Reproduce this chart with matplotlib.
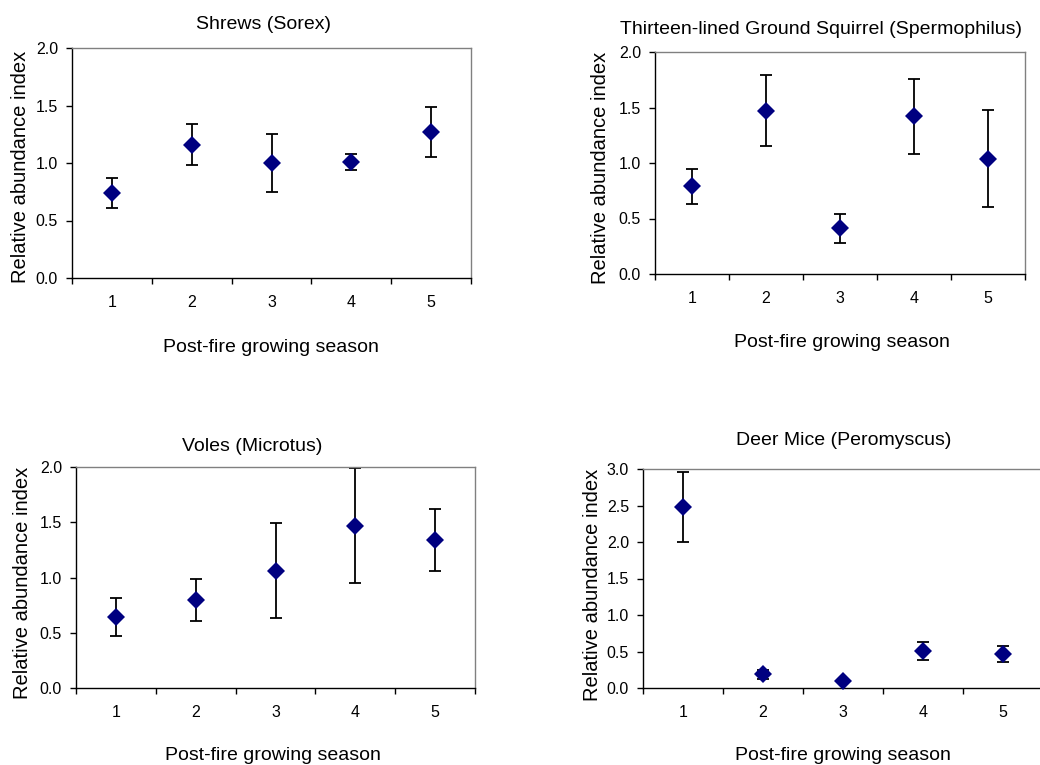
import numpy as np
import matplotlib
matplotlib.use('Agg')
import matplotlib.pyplot as plt

plt.rcParams['font.family'] = ['Liberation Sans', 'DejaVu Sans']

seasons = [1, 2, 3, 4, 5]

# Shrews (Sorex)
shrew_mean = [0.74, 1.16, 1.00, 1.01, 1.27]
shrew_err = [0.13, 0.18, 0.25, 0.07, 0.22]

# Thirteen-lined Ground Squirrel (Spermophilus)
squirrel_mean = [0.79, 1.47, 0.41, 1.42, 1.04]
squirrel_err = [0.155, 0.32, 0.13, 0.34, 0.44]

# Voles (Microtus)
vole_mean = [0.64, 0.80, 1.06, 1.47, 1.34]
vole_err = [0.17, 0.19, 0.43, 0.52, 0.28]

# Deer Mice (Peromyscus)
mice_mean = [2.48, 0.19, 0.10, 0.51, 0.47]
mice_err = [0.48, 0.06, 0.03, 0.12, 0.11]

W, H = 1040, 765
fig = plt.figure(figsize=(W / 100, H / 100), dpi=100)


def px_axes(l, t, r, b):
    return fig.add_axes([l / W, 1 - b / H, (r - l) / W, (b - t) / H])


def ftext(x, y, s, **kw):
    fig.text(x / W, 1 - y / H, s, **kw)


panels = [
    # axes box (l, t, r, b), title, title pos, ylabel pos, xlabel pos, data, ymax
    ((72, 48, 471, 278), 'Shrews (Sorex)', (263, 29), (21, 167), (271, 352),
     shrew_mean, shrew_err, 2.0),
    ((655, 52, 1025, 274), 'Thirteen-lined Ground Squirrel (Spermophilus)', (821, 34),
     (600, 168), (842, 347), squirrel_mean, squirrel_err, 2.0),
    ((76, 467, 475, 688), 'Voles (Microtus)', (252, 451), (23, 583), (273, 760),
     vole_mean, vole_err, 2.0),
    ((643, 469, 1043, 688), 'Deer Mice (Peromyscus)', (844, 445), (592, 585), (843, 760),
     mice_mean, mice_err, 3.0),
]

for box, title, tpos, ypos, xpos, mean, err, ymax in panels:
    ax = px_axes(*box)
    ax.errorbar(seasons, mean, yerr=err, fmt='none', ecolor='black',
                elinewidth=1.3, capsize=4.0, capthick=1.3, zorder=2)
    ax.plot(seasons, mean, 'D', color='#000080', markersize=8.7,
            markeredgewidth=0, zorder=3, clip_on=False)
    ax.set_xlim(0.5, 5.5)
    ax.set_ylim(0, ymax)
    ax.set_yticks(np.arange(0, ymax + 0.01, 0.5))
    ax.set_yticklabels([f'{v:.1f}' for v in np.arange(0, ymax + 0.01, 0.5)])
    ax.set_xticks(seasons)
    ax.set_xticks(np.arange(0.5, 5.6, 1.0), minor=True)
    ax.tick_params(axis='x', which='major', length=0, pad=12, labelsize=11.5)
    ax.tick_params(axis='x', which='minor', length=4, width=1, direction='out')
    ax.tick_params(axis='y', length=4, width=1, direction='out', pad=6, labelsize=11.5)
    ax.spines['left'].set_color('black')
    ax.spines['bottom'].set_color('black')
    ax.spines['top'].set_color('#808080')
    ax.spines['right'].set_color('#808080')
    for s in ax.spines.values():
        s.set_linewidth(1.0)
    ftext(tpos[0], tpos[1], title, ha='center', va='baseline', fontsize=14)
    ftext(ypos[0], ypos[1], 'Relative abundance index', ha='center', va='center',
          rotation=90, fontsize=14.5)
    ftext(xpos[0], xpos[1], 'Post-fire growing season', ha='center', va='baseline',
          fontsize=14)

fig.savefig('out.png', dpi=100)
